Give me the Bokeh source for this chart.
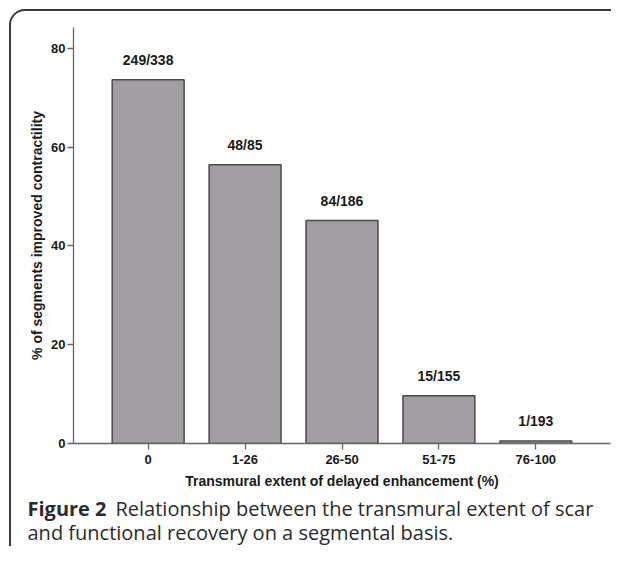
from bokeh.plotting import figure
from bokeh.models import (ColumnDataSource, FactorRange, Range1d, FixedTicker,
                          Label, InlineStyleSheet)
from bokeh.core.properties import value
from bokeh.embed import file_html
from bokeh.resources import INLINE

# ---- data ----
categories = ["0", "1-26", "26-50", "51-75", "76-100"]
improved = [249, 48, 84, 15, 1]
totals = [338, 85, 186, 155, 193]
y_ticks = [0, 20, 40, 60, 80]

percent = [100.0 * a / b for a, b in zip(improved, totals)]
labels = [f"{a}/{b}" for a, b in zip(improved, totals)]
src = ColumnDataSource(dict(cat=categories, pct=percent, lab=labels))

W, H_TOTAL = 611, 546
H_MAIN = 496
H_CAP = H_TOTAL - H_MAIN
FRAME_RIGHT, FRAME_BOTTOM = 610, 443

main_css = InlineStyleSheet(css="""
:host { position: relative; }
:host::after {
  content: ""; position: absolute;
  left: 9px; top: 9px; right: 0px; bottom: 0px;
  border-top: 2px solid #3a3a3a; border-left: 2px solid #3a3a3a;
  border-top-left-radius: 16px; pointer-events: none;
}
""")
cap_css = InlineStyleSheet(css="""
:host { position: relative; }
:host::after {
  content: ""; position: absolute;
  left: 9px; top: 0px; bottom: 0px; width: 0px;
  border-left: 2px solid #3a3a3a; pointer-events: none;
}
""")

p = figure(width=W, height=H_MAIN, output_backend="svg", toolbar_location=None,
           x_range=FactorRange(*categories, range_padding=0.27,
                               range_padding_units="absolute"),
           y_range=Range1d(0, 84.25),
           min_border_left=73, min_border_right=W - FRAME_RIGHT,
           min_border_top=27, min_border_bottom=H_MAIN - FRAME_BOTTOM,
           stylesheets=[main_css])
p.outline_line_color = None
p.background_fill_color = None
p.border_fill_color = None
p.xgrid.visible = False
p.ygrid.visible = False

p.vbar(x="cat", top="pct", width=0.742, source=src,
       fill_color="#a29ea3", line_color="#4a4a4a", line_width=1.5)
p.text(x="cat", y="pct", text="lab", source=src, y_offset=-20,
       text_align="center", text_baseline="middle",
       text_font=value("Liberation Sans"), text_font_style="bold",
       text_font_size="14px", text_color="#1a1a1a")

ax_col = "#666666"
for ax in (p.xaxis[0], p.yaxis[0]):
    ax.axis_line_color = ax_col
    ax.axis_line_width = 1.3
    ax.major_tick_line_color = ax_col
    ax.major_tick_line_width = 1.3
    ax.major_tick_in = 0
    ax.major_tick_out = 6
    ax.minor_tick_line_color = None
    ax.major_label_text_font = "Liberation Sans"
    ax.major_label_text_font_style = "bold"
    ax.major_label_text_font_size = "13px"
    ax.major_label_text_color = "#1a1a1a"
    ax.axis_label_text_font = "Liberation Sans"
    ax.axis_label_text_font_style = "bold"
    ax.axis_label_text_font_size = "14px"
    ax.axis_label_text_color = "#1a1a1a"

p.yaxis[0].ticker = FixedTicker(ticks=y_ticks)
p.yaxis[0].major_label_standoff = 2
p.yaxis[0].axis_label = "% of segments improved contractility"
p.yaxis[0].axis_label_standoff = 3
p.xaxis[0].major_label_standoff = 5
p.xaxis[0].axis_label = "Transmural extent of delayed enhancement (%)"
p.xaxis[0].axis_label_standoff = 6

# ---- caption strip: a separate root whose frame covers the whole strip ----
cap = figure(width=W, height=H_CAP, output_backend="svg", toolbar_location=None,
             x_axis_location=None, y_axis_location=None,
             x_range=Range1d(0, W), y_range=Range1d(0, H_CAP),
             min_border=0, min_border_left=0, min_border_right=0,
             min_border_top=0, min_border_bottom=0,
             stylesheets=[cap_css])
cap.outline_line_color = None
cap.background_fill_color = None
cap.border_fill_color = None
cap.xgrid.visible = False
cap.ygrid.visible = False

def cy(page_y):
    return H_TOTAL - page_y

cap_font = "Open Sans"
cap_col = "#2b2b2b"
FS = "20px"
cap.add_layout(Label(x=27, y=cy(508), x_units="screen", y_units="screen",
                     text="Figure 2", text_font=cap_font, text_font_style="bold",
                     text_font_size=FS, text_color=cap_col,
                     text_baseline="middle", text_align="left"))
cap.add_layout(Label(x=115, y=cy(508), x_units="screen", y_units="screen",
                     text="Relationship between the transmural extent of scar",
                     text_font=cap_font, text_font_size=FS,
                     text_color=cap_col, text_baseline="middle",
                     text_align="left"))
cap.add_layout(Label(x=27, y=cy(532), x_units="screen", y_units="screen",
                     text="and functional recovery on a segmental basis.",
                     text_font=cap_font, text_font_size=FS,
                     text_color=cap_col, text_baseline="middle",
                     text_align="left"))

open("out.html", "w").write(file_html([p, cap], INLINE))
